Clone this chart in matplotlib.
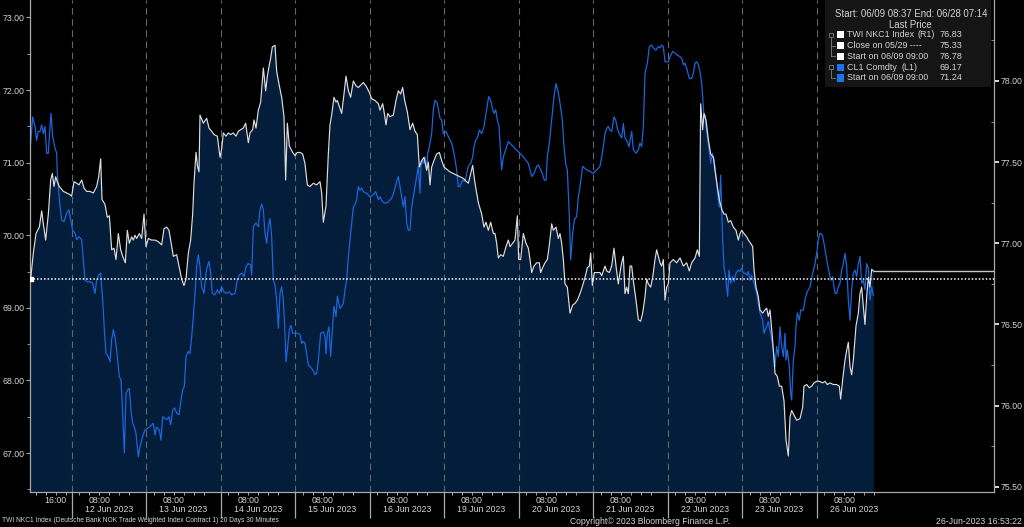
import matplotlib
matplotlib.use("Agg")
import matplotlib.pyplot as plt
from matplotlib.patches import Rectangle
from matplotlib.lines import Line2D
import numpy as np

plt.rcParams['font.family'] = ['Liberation Sans', 'DejaVu Sans']

# x axis is trading time in hours, 0 = open of the 12 Jun session
SESSION = 22.35
day_labels = ["12 Jun 2023", "13 Jun 2023", "14 Jun 2023", "15 Jun 2023", "16 Jun 2023",
              "19 Jun 2023", "20 Jun 2023", "21 Jun 2023", "22 Jun 2023", "23 Jun 2023",
              "26 Jun 2023"]
hour_0800 = 8.3
hour_1600 = -4.8

# TWI NKC1 Index (right axis)
twi_t = [-12.3, -11.5, -10.7, -9.7, -9.0, -8.5, -7.8, -7.0, -6.3, -5.8, -5.3, -4.8, -4.3, -3.7, -2.5, -1.5,
         -0.5, 0.0, 0.7, 1.5, 2.2, 3.0, 3.7, 4.5, 5.5, 6.5, 7.5, 8.1, 8.7, 9.1, 10.0, 10.7, 11.3, 12.0, 12.7,
         13.3, 14.0, 14.7, 15.3, 16.1, 16.7, 17.3, 18.0, 18.5, 19.0, 19.5, 20.3, 21.0, 21.7, 22.3, 23.0, 24.0,
         25.0, 26.0, 27.0, 27.7, 28.5, 29.2, 29.7, 30.5, 31.5, 32.2, 33.0, 33.7, 34.3, 35.0, 35.7, 36.3, 36.7,
         37.3, 37.8, 38.2, 38.5, 39.5, 40.5, 41.2, 42.0, 42.7, 43.7, 44.5, 45.0, 45.5, 46.3, 47.0, 47.7, 48.5,
         49.3, 50.0, 50.7, 51.5, 52.2, 53.0, 53.5, 54.3, 54.7, 55.3, 56.0, 56.7, 57.5, 58.2, 58.7, 59.3, 59.7,
         60.2, 61.0, 61.5, 62.3, 63.0, 63.7, 64.2, 64.7, 65.3, 66.3, 67.0, 67.7, 68.5, 69.3, 70.0, 70.7, 71.5,
         72.5, 73.5, 74.5, 75.0, 75.5, 76.3, 77.0, 77.5, 78.0, 78.7, 79.3, 79.7, 80.5, 81.0, 81.7, 82.3, 83.0,
         83.7, 84.5, 85.3, 86.0, 87.0, 87.5, 88.3, 89.3, 90.0, 91.0, 92.0, 92.5, 93.3, 93.8, 94.3, 94.8, 95.5,
         96.5, 97.3, 98.0, 98.7, 99.3, 99.9, 100.7, 101.5, 102.3, 103.0, 103.7, 104.3, 105.0, 105.7, 106.5,
         107.0, 107.5, 108.0, 108.7, 109.5, 110.3, 111.0, 111.7, 113.5, 115.5, 117.5, 119.0, 119.7, 120.3,
         121.0, 121.5, 122.0, 123.0, 123.7, 124.3, 125.0, 125.7, 126.5, 127.0, 127.5, 128.0, 128.7, 129.5,
         130.3, 131.0, 131.5, 132.3, 133.0, 133.7, 134.1, 134.7, 135.5, 136.3, 137.0, 137.5, 138.0, 138.7,
         139.5, 140.3, 140.7, 141.3, 142.0, 142.7, 143.3, 144.0, 144.5, 145.3, 146.0, 146.5, 147.0, 147.5,
         148.0, 148.7, 149.5, 150.3, 151.0, 151.7, 152.5, 153.3, 154.0, 154.7, 155.3, 155.7, 156.2, 156.8,
         157.5, 158.5, 159.0, 159.5, 160.0, 160.5, 161.3, 162.0, 162.7, 163.3, 164.0, 164.5, 165.0, 165.5,
         166.0, 166.5, 167.0, 167.5, 168.0, 168.5, 169.3, 170.0, 170.7, 171.3, 172.0, 172.5, 173.0, 173.7,
         174.3, 175.0, 175.5, 176.0, 176.5, 177.0, 177.5, 178.0, 178.5, 179.0, 179.5, 180.5, 181.5, 182.5,
         183.5, 184.5, 185.3, 186.0, 187.0, 187.7, 188.3, 188.7, 189.3, 189.7, 190.3, 191.0, 191.7, 192.5,
         193.0, 193.7, 194.3, 195.0, 195.7, 196.3, 197.0, 197.7, 198.5, 199.3, 200.0, 200.5, 201.0, 201.7,
         202.5, 203.0, 203.7, 204.3, 204.7, 205.3, 206.0, 206.5, 207.3, 208.0, 208.5, 209.0, 209.5, 210.3,
         211.0, 211.7, 212.3, 213.0, 213.7, 214.3, 215.0, 215.5, 216.0, 216.5, 217.5, 218.5, 219.3, 219.7,
         220.5, 221.3, 222.0, 222.7, 223.5, 224.3, 225.3, 226.0, 226.7, 227.5, 228.5, 229.5, 230.3, 230.7,
         231.3, 232.0, 232.5, 233.0, 233.5, 234.0, 234.5, 235.3, 236.0, 236.5, 237.0, 237.5, 238.0, 238.5,
         239.0, 239.5, 240.0, 240.5]
twi_v = [76.78, 76.94, 77.06, 77.10, 77.20, 77.12, 77.02, 77.18, 77.39, 77.43, 77.35, 77.41, 77.38, 77.35,
         77.32, 77.31, 77.30, 77.29, 77.38, 77.37, 77.36, 77.39, 77.34, 77.32, 77.32, 77.31, 77.35, 77.41,
         77.52, 77.27, 77.24, 77.16, 77.17, 76.96, 76.97, 76.90, 77.06, 76.96, 76.92, 76.88, 77.08, 77.00,
         77.04, 77.02, 77.05, 77.03, 77.06, 77.03, 77.18, 76.98, 77.03, 77.02, 77.02, 77.01, 76.99, 77.09,
         77.10, 77.08, 77.02, 76.92, 76.93, 76.86, 76.78, 76.74, 76.78, 76.94, 77.02, 77.18, 77.37, 77.56,
         77.47, 77.44, 77.79, 77.74, 77.77, 77.71, 77.69, 77.67, 77.66, 77.53, 77.58, 77.68, 77.66, 77.68,
         77.67, 77.68, 77.66, 77.69, 77.70, 77.71, 77.74, 77.62, 77.68, 77.70, 77.76, 77.71, 77.82, 77.87,
         78.08, 77.94, 78.03, 78.10, 78.14, 78.21, 78.22, 78.06, 77.97, 77.90, 77.78, 77.39, 77.74, 77.60,
         77.56, 77.54, 77.56, 77.56, 77.55, 77.49, 77.36, 77.35, 77.37, 77.36, 77.38, 77.31, 77.13, 77.23,
         77.55, 77.73, 77.79, 77.90, 77.87, 77.88, 77.83, 77.80, 77.92, 78.03, 77.94, 77.90, 78.00, 77.97,
         77.96, 77.98, 77.99, 77.97, 77.93, 77.89, 77.88, 77.86, 77.82, 77.86, 77.80, 77.73, 77.80, 77.78,
         77.79, 77.88, 77.94, 77.92, 77.96, 77.88, 77.81, 77.70, 77.74, 77.69, 77.67, 77.47, 77.51, 77.53,
         77.45, 77.50, 77.36, 77.47, 77.51, 77.55, 77.56, 77.51, 77.47, 77.44, 77.42, 77.40, 77.37, 77.43,
         77.48, 77.37, 77.31, 77.25, 77.18, 77.10, 77.13, 77.08, 77.13, 77.06, 77.06, 77.00, 76.91, 76.93,
         76.92, 76.98, 77.02, 76.98, 77.00, 77.02, 77.17, 76.90, 76.90, 77.06, 77.00, 76.97, 76.90, 76.82,
         76.86, 76.88, 76.88, 76.82, 76.85, 76.88, 76.90, 76.99, 77.12, 77.08, 77.10, 77.03, 77.06, 77.00,
         76.90, 76.75, 76.73, 76.57, 76.62, 76.63, 76.65, 76.69, 76.74, 76.79, 76.85, 76.86, 76.94, 76.74,
         76.82, 76.82, 76.82, 76.80, 76.83, 76.86, 76.83, 76.82, 76.86, 76.97, 76.86, 76.75, 76.82, 76.88,
         76.92, 76.69, 76.73, 76.69, 76.86, 76.86, 76.77, 76.65, 76.53, 76.52, 76.57, 76.67, 76.78, 76.75,
         76.73, 76.79, 76.90, 76.96, 76.92, 76.88, 76.86, 76.90, 76.65, 76.73, 76.75, 76.88, 76.90, 76.88,
         76.91, 76.86, 76.88, 76.83, 76.88, 76.91, 76.96, 76.92, 77.86, 77.70, 77.80, 77.76, 77.64, 77.55,
         77.53, 77.45, 77.35, 77.27, 77.21, 77.18, 77.18, 77.13, 77.14, 77.10, 77.08, 77.02, 77.06, 77.08,
         77.06, 77.04, 77.02, 77.00, 76.98, 76.84, 76.73, 76.67, 76.59, 76.57, 76.59, 76.60, 76.55, 76.59,
         76.40, 76.20, 76.18, 76.12, 76.12, 76.03, 75.79, 75.69, 75.93, 75.97, 75.95, 75.91, 75.92, 75.99,
         76.12, 76.13, 76.11, 76.12, 76.14, 76.15, 76.15, 76.14, 76.15, 76.13, 76.14, 76.13, 76.13, 76.12,
         76.04, 76.16, 76.28, 76.34, 76.39, 76.24, 76.19, 76.28, 76.49, 76.57, 76.69, 76.73, 76.61, 76.50,
         76.67, 76.79, 76.73, 76.84, 76.83]

# CL1 Comdty (left axis)
cl_t = [-12.7, -12.3, -11.7, -11.0, -10.5, -10.0, -9.5, -9.0, -8.5, -8.0, -7.5, -7.0, -6.5, -6.2, -5.7, -5.0,
        -4.5, -4.3, -3.7, -3.0, -2.3, -1.5, -0.8, -0.3, 0.3, 1.0, 1.5, 2.2, 3.0, 3.5, 4.0, 4.7, 5.5, 6.3, 7.0,
        7.5, 8.1, 8.7, 9.3, 9.8, 10.3, 11.0, 11.5, 12.0, 12.5, 13.0, 13.5, 14.3, 14.8, 15.3, 15.8, 16.3, 16.8,
        17.3, 17.8, 18.3, 18.8, 19.3, 20.0, 20.5, 21.3, 22.0, 22.7, 23.3, 24.0, 24.5, 25.0, 25.5, 26.3, 26.8,
        27.3, 28.0, 28.5, 29.2, 29.7, 30.3, 30.9, 31.5, 32.2, 32.8, 33.3, 33.8, 34.3, 35.0, 35.5, 36.0, 36.5,
        37.0, 37.5, 38.0, 38.5, 39.0, 39.7, 40.3, 40.7, 41.2, 41.7, 42.2, 43.0, 43.7, 44.3, 45.0, 45.7, 46.5,
        47.3, 48.0, 49.0, 49.7, 50.3, 51.0, 51.7, 52.3, 53.0, 53.7, 54.0, 54.5, 55.3, 56.0, 56.5, 57.0, 57.5,
        58.0, 58.5, 59.0, 59.5, 60.0, 60.5, 61.0, 61.5, 62.0, 62.5, 63.0, 63.5, 64.0, 64.3, 64.7, 65.3, 65.8,
        66.3, 67.0, 68.0, 68.5, 69.0, 69.5, 70.0, 70.5, 71.0, 71.5, 72.3, 73.0, 73.5, 74.0, 74.7, 75.5, 76.0,
        76.3, 76.7, 77.2, 77.7, 78.2, 78.7, 79.3, 79.7, 80.5, 81.5, 82.0, 82.5, 83.0, 83.5, 84.0, 84.5, 85.0,
        85.5, 86.0, 86.5, 87.0, 87.5, 88.5, 89.5, 90.5, 91.2, 92.0, 92.5, 93.3, 94.0, 95.0, 96.0, 96.7, 97.5,
        98.0, 98.5, 99.0, 99.5, 100.0, 100.5, 101.0, 101.5, 102.0, 102.5, 103.0, 103.5, 104.0, 104.5, 104.8,
        105.3, 105.7, 106.0, 106.5, 106.8, 107.3, 108.0, 108.5, 109.0, 109.7, 110.5, 111.0, 111.5, 112.3,
        113.0, 114.0, 114.7, 115.5, 116.0, 116.5, 117.3, 118.0, 118.5, 119.0, 119.7, 120.3, 120.7, 121.2,
        121.7, 122.3, 123.0, 123.7, 124.5, 125.1, 125.7, 126.3, 126.7, 127.2, 127.7, 128.2, 128.7, 129.0,
        129.5, 130.2, 131.0, 132.5, 134.0, 135.5, 137.0, 137.5, 138.0, 138.7, 139.5, 140.0, 140.5, 141.2,
        141.8, 142.3, 142.7, 143.3, 144.0, 144.7, 145.3, 146.0, 146.5, 147.2, 147.7, 148.2, 148.7, 149.3,
        149.7, 150.3, 150.8, 151.5, 152.0, 152.5, 153.3, 154.5, 155.5, 156.5, 157.5, 158.5, 159.0, 159.5,
        160.0, 160.5, 161.0, 161.5, 162.0, 162.7, 163.2, 163.7, 164.3, 165.0, 165.5, 166.0, 166.5, 167.2,
        168.0, 168.5, 169.3, 170.0, 170.5, 171.0, 171.5, 172.0, 172.7, 173.3, 174.0, 174.5, 175.3, 176.0,
        176.5, 177.0, 177.5, 178.0, 179.0, 179.5, 180.3, 181.0, 181.7, 182.5, 183.0, 183.5, 184.0, 184.5,
        185.3, 186.0, 186.5, 187.0, 187.5, 188.0, 188.5, 189.0, 189.3, 189.7, 190.0, 190.3, 190.7, 191.3,
        191.7, 192.2, 192.7, 193.0, 193.5, 194.0, 194.3, 194.7, 195.0, 195.3, 195.7, 196.3, 196.8, 197.2,
        197.7, 198.3, 198.7, 199.3, 200.0, 200.5, 201.0, 201.5, 202.0, 202.5, 203.0, 203.5, 204.0, 204.7,
        205.5, 206.0, 206.5, 207.3, 207.7, 208.3, 209.0, 209.7, 210.5, 211.0, 211.5, 212.0, 212.5, 213.0,
        213.5, 214.0, 214.3, 214.7, 215.3, 215.7, 216.0, 216.5, 217.0, 217.3, 217.7, 218.3, 218.7, 219.5,
        220.0, 220.5, 221.0, 221.5, 222.3, 223.0, 223.5, 224.0, 224.5, 225.2, 225.7, 226.2, 226.7, 227.3,
        227.7, 228.3, 229.0, 229.5, 230.0, 230.5, 231.0, 231.5, 232.0, 232.5, 233.0, 233.5, 234.0, 234.5,
        235.0, 235.5, 236.0, 236.5, 237.0, 237.5, 238.0, 238.5, 239.0, 239.5, 240.0, 240.5]
cl_v = [71.24, 71.27, 71.63, 71.50, 71.31, 71.43, 71.43, 71.52, 71.40, 71.50, 71.13, 71.13, 71.50, 71.68,
        71.36, 71.20, 71.13, 70.85, 70.49, 70.21, 70.19, 70.30, 70.35, 70.21, 70.07, 70.03, 69.94, 69.98,
        69.94, 69.66, 69.38, 69.36, 69.36, 69.34, 69.20, 69.38, 69.45, 69.48, 69.11, 68.70, 68.37, 68.33,
        68.26, 68.56, 68.70, 68.60, 68.42, 68.05, 68.01, 67.55, 67.00, 67.82, 67.87, 67.89, 67.59, 67.41,
        67.36, 67.27, 66.95, 67.09, 67.23, 67.32, 67.34, 67.36, 67.39, 67.41, 67.25, 67.36, 67.32, 67.18,
        67.50, 67.48, 67.46, 67.50, 67.39, 67.59, 67.62, 67.55, 67.53, 67.73, 67.87, 67.92, 68.33, 68.40,
        68.37, 68.60, 68.88, 69.20, 69.57, 69.73, 69.57, 69.29, 69.20, 69.48, 69.57, 69.64, 69.48, 69.20,
        69.18, 69.25, 69.20, 69.29, 69.22, 69.20, 69.22, 69.18, 69.20, 69.38, 69.45, 69.48, 69.43, 69.57,
        69.61, 69.59, 69.45, 70.12, 70.17, 70.12, 70.35, 70.43, 70.35, 70.03, 69.89, 70.12, 70.23, 69.98,
        69.38, 69.32, 69.11, 68.72, 69.20, 69.29, 69.11, 68.65, 68.26, 68.42, 68.70, 68.76, 68.65, 68.65,
        68.65, 68.63, 68.51, 68.54, 68.51, 68.37, 68.21, 68.19, 68.15, 68.08, 68.10, 68.28, 68.65, 68.67,
        68.60, 68.37, 68.65, 68.74, 68.33, 68.70, 69.02, 68.88, 69.16, 68.99, 69.06, 69.25, 69.38, 69.71,
        69.94, 70.17, 70.39, 70.42, 70.49, 70.67, 70.62, 70.65, 70.60, 70.58, 70.53, 70.56, 70.60, 70.49,
        70.53, 70.46, 70.44, 70.46, 70.51, 70.60, 70.74, 70.81, 70.67, 70.53, 70.39, 70.53, 70.17, 70.07,
        70.07, 70.39, 70.53, 70.67, 70.81, 70.95, 70.58, 70.95, 71.04, 70.99, 71.08, 70.90, 71.13, 71.22,
        71.40, 71.73, 71.86, 71.82, 71.61, 71.59, 71.40, 71.43, 71.36, 71.27, 71.13, 70.90, 70.67, 70.67,
        70.76, 70.74, 70.85, 70.95, 70.99, 71.08, 71.22, 71.31, 71.34, 71.45, 71.40, 71.50, 71.73, 71.91,
        71.86, 71.73, 71.68, 71.73, 71.59, 71.50, 71.13, 70.90, 71.08, 71.18, 71.29, 71.22, 71.15, 71.08,
        70.99, 70.90, 70.81, 70.85, 70.95, 70.97, 70.92, 70.85, 70.76, 70.76, 71.08, 71.27, 71.59, 71.91,
        72.09, 71.96, 71.82, 71.59, 71.22, 70.99, 70.90, 70.26, 69.66, 70.03, 70.21, 70.26, 70.53, 70.67,
        70.95, 70.90, 70.88, 70.85, 70.90, 70.95, 71.08, 71.22, 71.40, 71.47, 71.50, 71.45, 71.43, 71.63,
        71.59, 71.47, 71.40, 71.34, 71.54, 71.34, 71.31, 71.22, 71.43, 71.18, 71.13, 71.18, 71.27, 71.22,
        71.50, 72.23, 72.37, 72.60, 72.62, 72.58, 72.55, 72.60, 72.58, 72.62, 72.60, 72.39, 72.39, 72.46,
        72.53, 72.51, 72.48, 72.46, 72.44, 72.35, 72.37, 72.30, 72.16, 72.16, 72.23, 72.37, 72.39, 72.35,
        72.25, 72.09, 71.91, 71.63, 71.66, 71.50, 71.36, 71.15, 70.99, 71.13, 71.04, 70.95, 70.72, 70.49,
        70.39, 70.83, 70.39, 69.94, 69.57, 69.38, 69.16, 69.52, 69.34, 69.43, 69.36, 69.48, 69.52, 69.50,
        69.55, 69.48, 69.48, 69.45, 69.50, 69.38, 69.45, 69.34, 69.20, 69.06, 68.93, 68.83, 68.65, 68.72,
        68.81, 68.65, 68.42, 68.19, 68.47, 68.33, 68.74, 68.47, 68.33, 68.65, 68.28, 68.42, 68.19, 67.82,
        67.73, 68.28, 68.47, 68.74, 68.93, 68.83, 68.97, 68.97, 69.11, 69.20, 69.25, 69.29, 69.48, 69.61,
        69.75, 69.94, 70.03, 70.00, 69.89, 69.75, 69.61, 69.48, 69.38, 69.43, 69.20, 69.20, 69.29, 69.34,
        69.52, 69.61, 69.75, 69.57, 69.11, 68.83, 69.25, 69.48, 69.52, 69.43, 69.61, 69.71, 69.34, 69.38,
        69.25, 69.61, 69.55, 69.11, 69.29, 69.17]

twi_start = 76.78
twi_last = 76.83

legend_rows = ["TWI NKC1 Index", "Close on 05/29 ----", "Start on 06/09 09:00",
               "CL1 Comdty", "Start on 06/09 09:00"]
legend_axis = ["(R1)", "", "", "(L1)", ""]
legend_vals = ["76.83", "75.33", "76.78", "69.17", "71.24"]

W, H = 1024, 527
BG = 'black'
FILL = '#041d3b'
BLUE = '#1a66dc'
WHITE = '#dedede'
GRID = '#5e6874'
AXC = '#a8a8a8'
TXT = '#d4d4d4'

XMIN, XMAX = -12.5, 276.7
LMIN, LMAX = 66.464, 73.241
RMIN, RMAX = 75.468, 78.499

fig = plt.figure(figsize=(W / 100, H / 100), dpi=100, facecolor=BG)
axL = fig.add_axes([30 / W, 35 / H, 964 / W, 492 / H])
axR = axL.twinx()
axW = axL.twinx()
axR.set_zorder(1)
axL.set_zorder(2)
axW.set_zorder(3)
axL.patch.set_visible(False)
axR.patch.set_visible(True)
axR.patch.set_facecolor(BG)
axW.patch.set_visible(False)

for a in (axL, axR, axW):
    a.set_xlim(XMIN, XMAX)
    for s in a.spines.values():
        s.set_visible(False)
axL.set_ylim(LMIN, LMAX)
axR.set_ylim(RMIN, RMAX)
axW.set_ylim(RMIN, RMAX)

# fill under the TWI line
axR.fill_between(twi_t, twi_v, RMIN, color=FILL, lw=0)

# day separators
for k in range(len(day_labels)):
    axL.axvline(k * SESSION, color=GRID, lw=0.8, ls=(0, (6, 4)), zorder=0.5)

axL.plot(cl_t, cl_v, color=BLUE, lw=0.9, zorder=2)
axW.plot(twi_t, twi_v, color=WHITE, lw=0.85, zorder=3)
axW.axhline(twi_start, color='white', lw=1.1, ls=(0, (1, 1.3)), zorder=4)
axW.hlines(twi_last, twi_t[-1], XMAX, color='#c8c8c8', lw=1.0, zorder=4)
axW.plot(twi_t[0], twi_v[0], marker='s', ms=2.5, color='white', zorder=5)

# spines
axL.spines['left'].set_visible(True)
axL.spines['bottom'].set_visible(True)
axR.spines['right'].set_visible(True)
for s in (axL.spines['left'], axL.spines['bottom'], axR.spines['right']):
    s.set_color(AXC)
    s.set_linewidth(0.9)

# y ticks
axL.set_yticks(np.arange(67, 73.5, 1.0))
axL.set_yticks(np.arange(66.5, 73.5, 0.5), minor=True)
axL.set_yticklabels(["%.2f" % v for v in np.arange(67, 73.5, 1.0)])
axR.set_yticks(np.arange(75.5, 78.1, 0.5))
axR.set_yticks(np.arange(75.5, 78.4, 0.25), minor=True)
axR.set_yticklabels(["%.2f" % v for v in np.arange(75.5, 78.1, 0.5)])
axL.tick_params(axis='y', which='major', direction='out', length=3, width=0.8, color=AXC,
                labelcolor=TXT, labelsize=6.3, pad=1)
axL.tick_params(axis='y', which='minor', direction='out', length=2, width=0.6, color=AXC)
axR.tick_params(axis='y', which='major', direction='out', length=3.5, width=1.2, color='white',
                labelcolor=TXT, labelsize=6.3, pad=1)
axR.tick_params(axis='y', which='minor', direction='in', length=2, width=0.6, color=AXC)
axW.set_yticks([])

# x ticks
axL.set_xticks([k * SESSION for k in range(len(day_labels))])
axL.set_xticklabels([])
axL.tick_params(axis='x', which='major', direction='out', length=19, width=0.9, color=AXC)
minor_pos = [hour_1600 - 6, hour_1600 - 3, hour_1600, hour_1600 + 3]
minor_lab = ["", "", "16:00", ""]
for k in range(len(day_labels)):
    base = k * SESSION
    for off in (-6, -3, 0, 3, 6, 9):
        minor_pos.append(base + hour_0800 + off)
        minor_lab.append("08:00" if off == 0 else "")
axL.set_xticks(minor_pos, minor=True)
axL.set_xticklabels(minor_lab, minor=True)
axL.tick_params(axis='x', which='minor', direction='out', length=2.5, width=0.7, color=AXC,
                labelcolor=TXT, labelsize=6.3, pad=0.5)
tr = axL.get_xaxis_transform()
for k, lab in enumerate(day_labels):
    axL.text((k + 0.5) * SESSION, -0.027, lab, transform=tr, ha='center', va='top',
             color=TXT, fontsize=6.3)

# legend box
def fx(px):
    return px / W

def fy(py):
    return 1 - py / H

fig.add_artist(Rectangle((fx(825), fy(87)), fx(991) - fx(825), 87 / H, transform=fig.transFigure,
                         facecolor='#151515', edgecolor='none', zorder=10))
fig.text(fx(911), fy(14), "Start: 06/09 08:37 End: 06/28 07:14", ha='center', va='center',
         color=TXT, fontsize=6.9, zorder=11)
fig.text(fx(910), fy(24.5), "Last Price", ha='center', va='center', color=TXT, fontsize=6.9, zorder=11)
row_y = [34.7, 45.5, 56.3, 67.2, 78.0]
axis_x = [917, 0, 0, 902, 0]
sq_col = ['white', 'white', 'white', '#1a73f0', '#1a73f0']
for y, lab, tag, ax_x, val, c in zip(row_y, legend_rows, legend_axis, axis_x, legend_vals, sq_col):
    fig.add_artist(Rectangle((fx(837), fy(y + 3.6)), 7 / W, 7.2 / H, transform=fig.transFigure,
                             facecolor=c, edgecolor='none', zorder=11))
    fig.text(fx(847), fy(y), lab, ha='left', va='center', color=TXT, fontsize=6.4, zorder=11)
    if tag:
        fig.text(fx(ax_x), fy(y), tag, ha='left', va='center', color=TXT, fontsize=6.4, zorder=11)
    fig.text(fx(962), fy(y), val, ha='right', va='center', color=TXT, fontsize=6.6, zorder=11)
# tree connectors
for top, rows in ((row_y[0], row_y[1:3]), (row_y[3], row_y[4:5])):
    fig.add_artist(Rectangle((fx(829), fy(top + 2)), 4 / W, 4 / H, transform=fig.transFigure,
                             facecolor='none', edgecolor='#808080', lw=0.6, zorder=11))
    fig.add_artist(Line2D([fx(831), fx(831)], [fy(top + 2), fy(rows[-1])], transform=fig.transFigure,
                          color='#808080', lw=0.6, zorder=11))
    for r in rows:
        fig.add_artist(Line2D([fx(831), fx(835)], [fy(r), fy(r)], transform=fig.transFigure,
                              color='#808080', lw=0.6, zorder=11))

# footer
fig.text(fx(2), fy(521), "TWI NKC1 Index (Deutsche Bank NOK Trade Weighted Index Contract 1) 20 Days 30 Minutes",
         ha='left', va='center', color=TXT, fontsize=4.8)
fig.text(fx(650), fy(521), "Copyright\u00a9 2023 Bloomberg Finance L.P.", ha='center', va='center',
         color=TXT, fontsize=6.2)
fig.text(fx(1022), fy(521), "26-Jun-2023 16:53:22", ha='right', va='center', color=TXT, fontsize=6.3)

fig.savefig("out.png", dpi=100, facecolor=BG)
